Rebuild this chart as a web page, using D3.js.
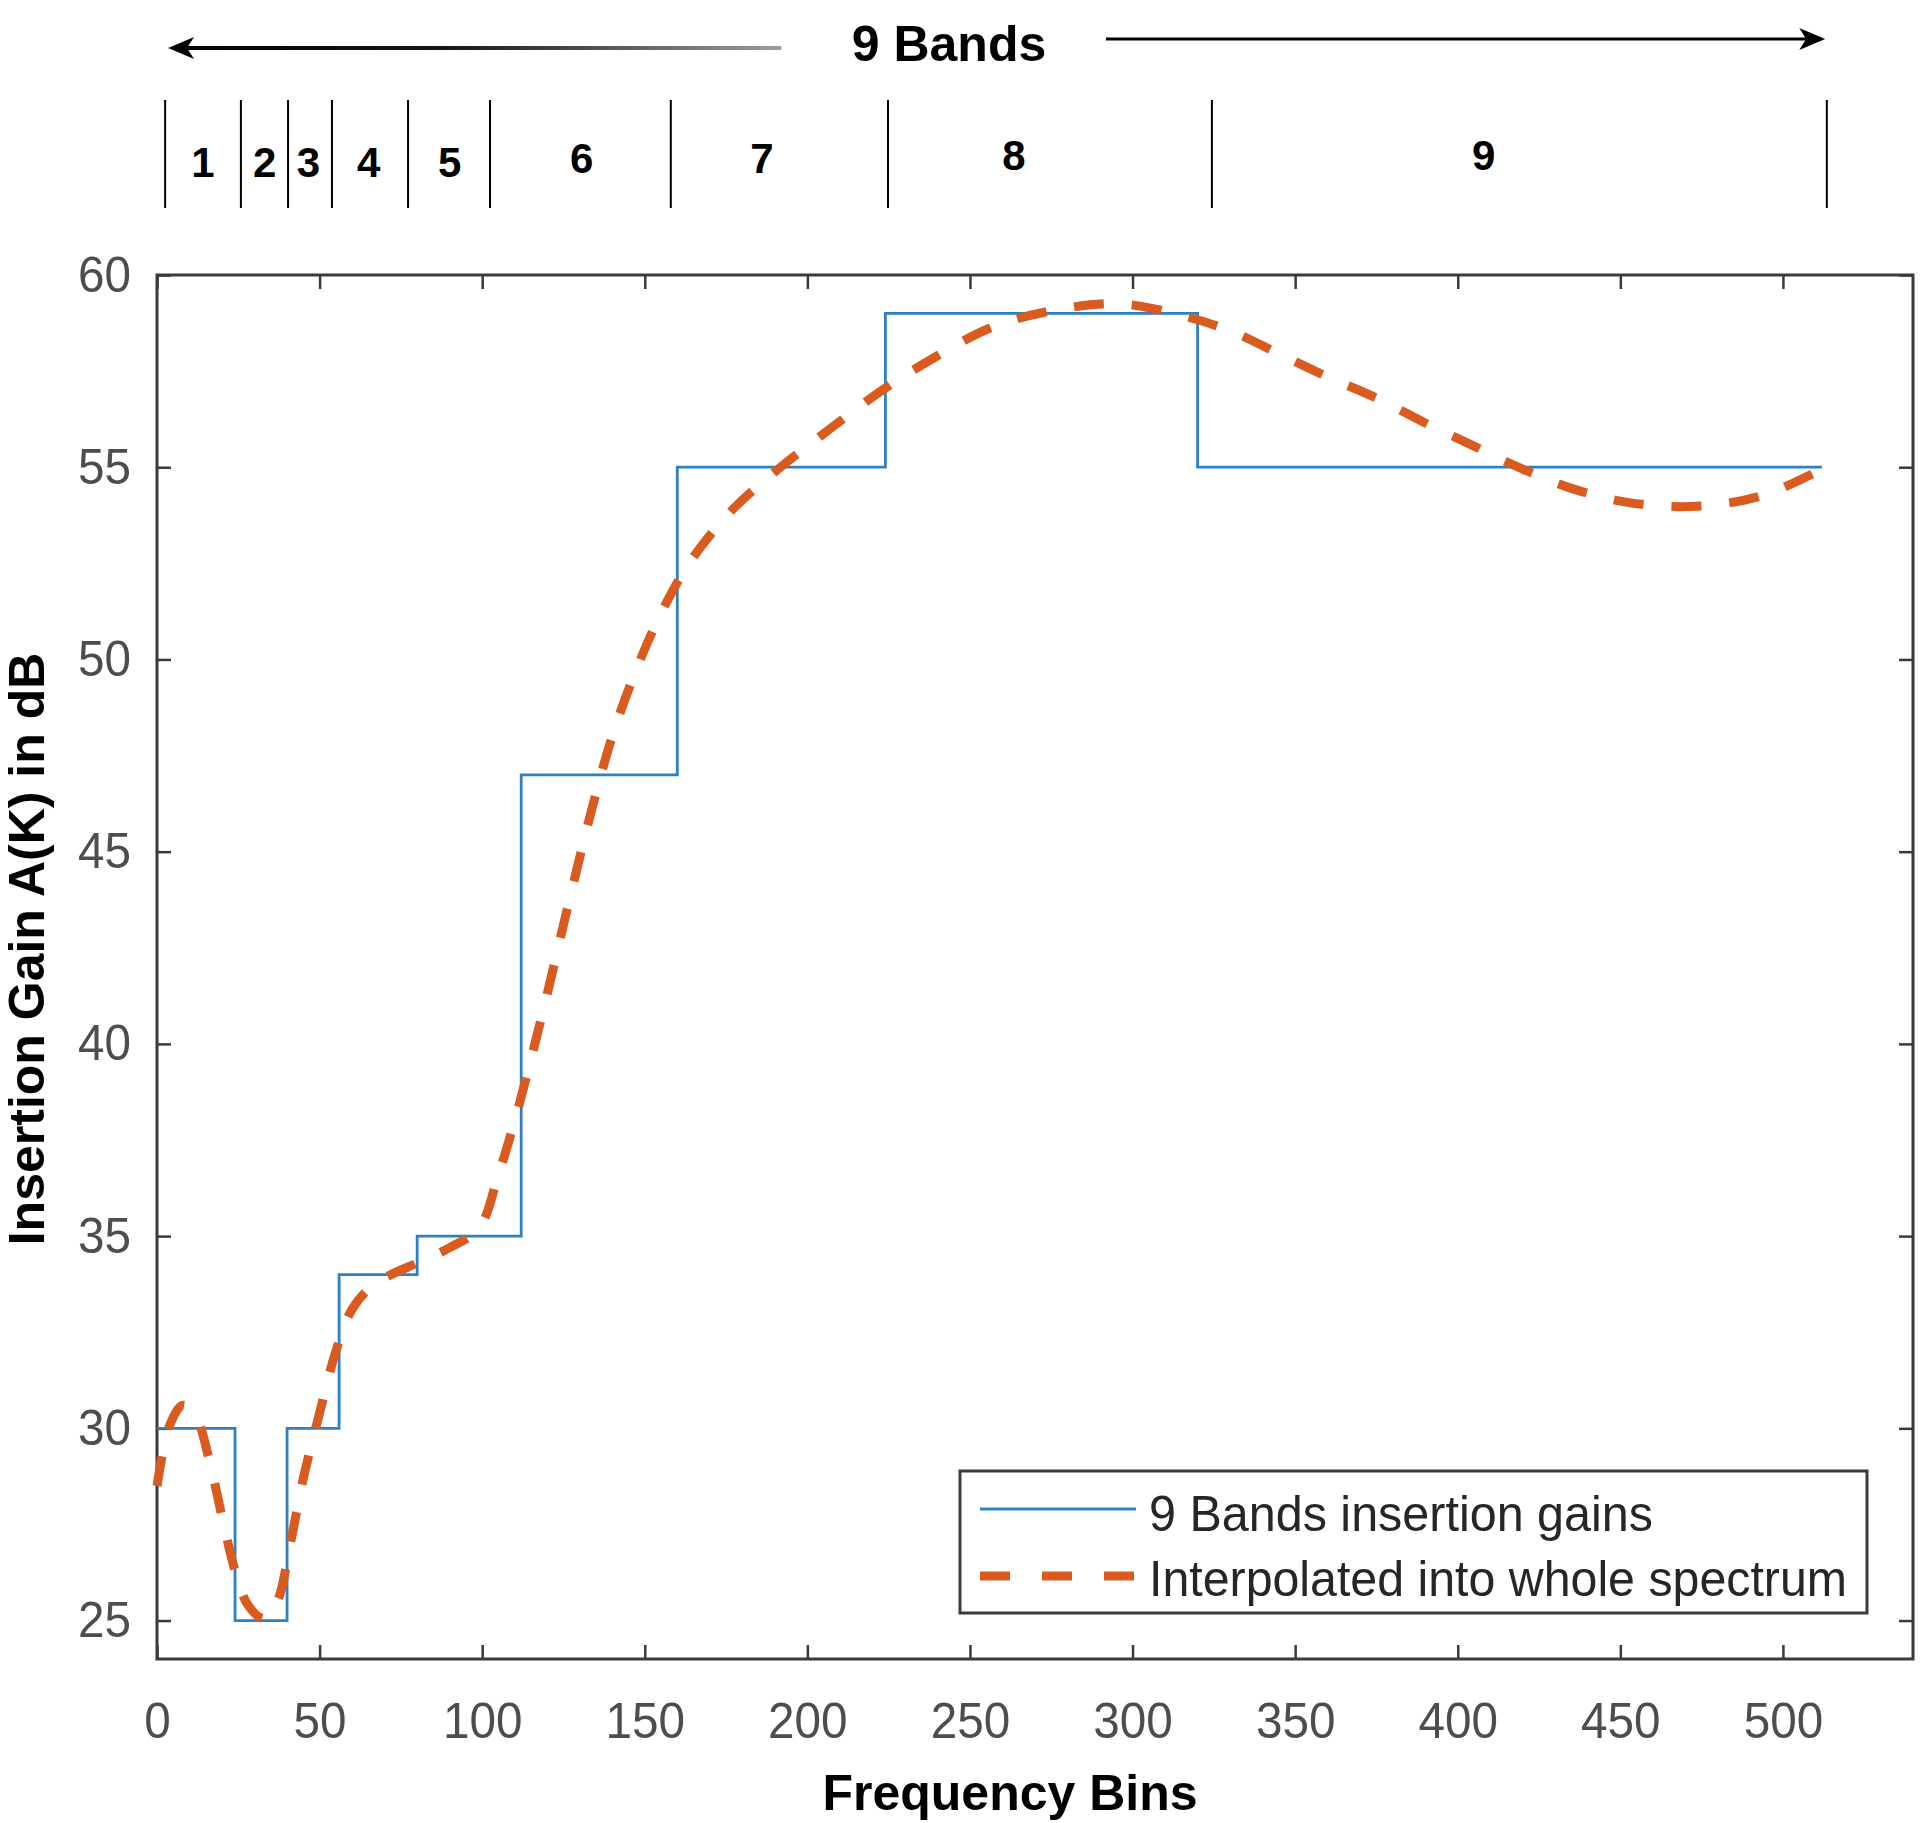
<!DOCTYPE html>
<html>
<head>
<meta charset="utf-8">
<script src="https://cdn.jsdelivr.net/npm/d3@7"></script>
<style>
body { margin: 0; background: #fff; }
text { font-family: "Liberation Sans", Arial, sans-serif; }
</style>
</head>
<body>
<svg id="chart" width="1920" height="1823"></svg>
<script>
// band edges (frequency bins) and the gain of each band
var bandEdges = [0, 24, 40, 56, 80, 112, 160, 224, 320, 512];
var bandGains = [30, 25, 30, 34, 35, 47, 55, 59, 55];

// interpolated curve
var interpBins  = [0, 4, 8, 12, 16, 20, 24, 28, 33, 37, 41, 45, 50, 55, 60, 66, 72, 80, 90, 99, 105, 110, 115, 120, 125, 130, 134, 140, 147, 155, 164, 177, 191, 207, 223, 240, 257, 277, 296, 315, 330, 345, 360, 375, 390, 405, 420, 435, 450, 465, 480, 495, 512];
var interpGains = [28.5, 30.1, 30.6, 30.3, 29.2, 27.7, 26.3, 25.4, 25.05, 25.5, 27.0, 28.7, 30.4, 32.0, 33.1, 33.7, 34.0, 34.3, 34.7, 35.2, 36.6, 38.0, 39.6, 41.3, 43.1, 44.85, 46.2, 48.0, 49.65, 51.2, 52.55, 53.9, 54.95, 56.0, 57.0, 57.9, 58.65, 59.1, 59.25, 58.95, 58.55, 57.95, 57.35, 56.8, 56.15, 55.55, 54.95, 54.45, 54.12, 53.98, 54.03, 54.3, 54.95];

var xTicks = [0, 50, 100, 150, 200, 250, 300, 350, 400, 450, 500];
var yTicks = [25, 30, 35, 40, 45, 50, 55, 60];

// the hand drawn band strip above the plot (in bins)
var stripEdges  = [2.5, 25.8, 40.3, 53.8, 77.2, 102.4, 158, 224.8, 324.4, 513.5];
var stripLabels = ["1", "2", "3", "4", "5", "6", "7", "8", "9"];
var stripLabelBins = [14.1, 33.1, 46.6, 65.1, 90, 130.6, 186, 263.5, 408];
var arrowLeft  = [192, 3.4];
var arrowRight = [291.8, 513];

var legendLabels = ["9 Bands insertion gains", "Interpolated into whole spectrum"];

var blue = "#2f80c2", orange = "#da5b20", axisCol = "#3a3a3a", tickText = "#4d4d4d";

var svg = d3.select("#chart");
svg.append("rect").attr("width", 1920).attr("height", 1823).attr("fill", "#fff");

var x = d3.scaleLinear().domain([0, 540]).range([157, 1913]);
var y = d3.scaleLinear().domain([24, 60]).range([1659, 275]);

// ---- band strip on top ----
var defs = svg.append("defs");
var grad = defs.append("linearGradient")
	.attr("id", "fadeArrow")
	.attr("gradientUnits", "userSpaceOnUse")
	.attr("x1", x(arrowLeft[1])).attr("x2", x(arrowLeft[0]))
	.attr("y1", 0).attr("y2", 0);
grad.append("stop").attr("offset", "0%").attr("stop-color", "#000");
grad.append("stop").attr("offset", "45%").attr("stop-color", "#141414");
grad.append("stop").attr("offset", "100%").attr("stop-color", "#9c9c9c");

var strip = svg.append("g");
strip.append("line")
	.attr("x1", x(arrowLeft[0])).attr("x2", x(arrowLeft[1]) + 6)
	.attr("y1", 48).attr("y2", 48)
	.attr("stroke", "url(#fadeArrow)").attr("stroke-width", 4);
var lt = x(arrowLeft[1]);
strip.append("path")
	.attr("d", "M" + lt + ",48 L" + (lt + 26) + ",37 L" + (lt + 19) + ",48 L" + (lt + 26) + ",59 Z")
	.attr("fill", "#000");

strip.append("line")
	.attr("x1", x(arrowRight[0])).attr("x2", x(arrowRight[1]) - 6)
	.attr("y1", 39).attr("y2", 39)
	.attr("stroke", "#000").attr("stroke-width", 3);
var rt = x(arrowRight[1]);
strip.append("path")
	.attr("d", "M" + rt + ",39 L" + (rt - 26) + ",28 L" + (rt - 19) + ",39 L" + (rt - 26) + ",50 Z")
	.attr("fill", "#000");

strip.append("text")
	.attr("x", 949).attr("y", 61)
	.attr("text-anchor", "middle")
	.attr("font-size", 50).attr("font-weight", "bold")
	.attr("fill", "#000")
	.text("9 Bands");

strip.selectAll(".sep")
	.data(stripEdges)
	.enter().append("line")
	.attr("class", "sep")
	.attr("x1", function(d) { return x(d); })
	.attr("x2", function(d) { return x(d); })
	.attr("y1", 100).attr("y2", 208)
	.attr("stroke", "#000").attr("stroke-width", 2);

strip.selectAll(".blabel")
	.data(stripLabels)
	.enter().append("text")
	.attr("class", "blabel")
	.attr("x", function(d, i) { return x(stripLabelBins[i]); })
	.attr("y", function(d, i) { return i >= 7 ? 170 : (i >= 5 ? 173 : 177); })
	.attr("text-anchor", "middle")
	.attr("font-size", 42).attr("font-weight", "bold")
	.attr("fill", "#000")
	.text(function(d) { return d; });

// ---- axes ----
var xAxis = d3.axisBottom(x).tickValues(xTicks).tickSizeInner(-14).tickSizeOuter(0).tickPadding(43);
var yAxis = d3.axisLeft(y).tickValues(yTicks).tickSizeInner(-14).tickSizeOuter(0).tickPadding(26);

var gx = svg.append("g").attr("transform", "translate(0," + y(24) + ")").call(xAxis);
var gy = svg.append("g").attr("transform", "translate(" + x(0) + ",0)").call(yAxis);
// ticks on top and right too
var gxt = svg.append("g").attr("transform", "translate(0," + y(60) + ")")
	.call(d3.axisTop(x).tickValues(xTicks).tickSizeInner(-14).tickSizeOuter(0).tickFormat(""));
var gyr = svg.append("g").attr("transform", "translate(" + x(540) + ",0)")
	.call(d3.axisRight(y).tickValues(yTicks).tickSizeInner(-14).tickSizeOuter(0).tickFormat(""));

[gx, gy, gxt, gyr].forEach(function(g) {
	g.select(".domain").remove();
	g.selectAll(".tick line").attr("stroke", axisCol).attr("stroke-width", 2.5);
	g.selectAll(".tick text")
		.attr("fill", tickText)
		.attr("font-size", 50)
		.attr("font-family", "Liberation Sans, Arial, sans-serif")
		.attr("textLength", function(d) { return String(d).length * 26.5; })
		.attr("lengthAdjust", "spacingAndGlyphs");
});

svg.append("rect")
	.attr("x", x(0)).attr("y", y(60))
	.attr("width", x(540) - x(0)).attr("height", y(24) - y(60))
	.attr("fill", "none").attr("stroke", axisCol).attr("stroke-width", 3);

// ---- lines ----
var stepPts = bandGains.map(function(g, i) { return [bandEdges[i], g]; });
stepPts.push([bandEdges[bandEdges.length - 1], bandGains[bandGains.length - 1]]);

var stepLine = d3.line()
	.x(function(d) { return x(d[0]); })
	.y(function(d) { return y(d[1]); })
	.curve(d3.curveStepAfter);

svg.append("path")
	.datum(stepPts)
	.attr("d", stepLine)
	.attr("fill", "none")
	.attr("stroke", blue).attr("stroke-width", 2.8);

var interpPts = interpBins.map(function(b, i) { return [b, interpGains[i]]; });
var smooth = d3.line()
	.x(function(d) { return x(d[0]); })
	.y(function(d) { return y(d[1]); })
	.curve(d3.curveCatmullRom.alpha(0.5));

svg.append("path")
	.datum(interpPts)
	.attr("d", smooth)
	.attr("fill", "none")
	.attr("stroke", orange).attr("stroke-width", 9)
	.attr("stroke-dasharray", "30,28");

// ---- axis titles ----
svg.append("text")
	.attr("x", 1010).attr("y", 1810)
	.attr("text-anchor", "middle")
	.attr("font-size", 50).attr("font-weight", "bold")
	.attr("fill", "#000")
	.text("Frequency Bins");

svg.append("text")
	.attr("transform", "translate(44,949) rotate(-90)")
	.attr("text-anchor", "middle")
	.attr("font-size", 50).attr("font-weight", "bold")
	.attr("fill", "#000")
	.text("Insertion Gain A(K) in dB");

// ---- legend ----
var legend = svg.append("g");
legend.append("rect")
	.attr("x", 960).attr("y", 1471)
	.attr("width", 907).attr("height", 142)
	.attr("fill", "#fff").attr("stroke", axisCol).attr("stroke-width", 3);

legend.append("line")
	.attr("x1", 980).attr("x2", 1136).attr("y1", 1509).attr("y2", 1509)
	.attr("stroke", blue).attr("stroke-width", 3);
legend.append("line")
	.attr("x1", 980).attr("x2", 1136).attr("y1", 1576).attr("y2", 1576)
	.attr("stroke", orange).attr("stroke-width", 9)
	.attr("stroke-dasharray", "30,32");

var legendWidths = [504, 698];
legend.selectAll(".ltext")
	.data(legendLabels)
	.enter().append("text")
	.attr("class", "ltext")
	.attr("x", 1149)
	.attr("y", function(d, i) { return i === 0 ? 1531 : 1596; })
	.attr("font-size", 50)
	.attr("fill", "#262626")
	.attr("textLength", function(d, i) { return legendWidths[i]; })
	.attr("lengthAdjust", "spacingAndGlyphs")
	.text(function(d) { return d; });
</script>
</body>
</html>
